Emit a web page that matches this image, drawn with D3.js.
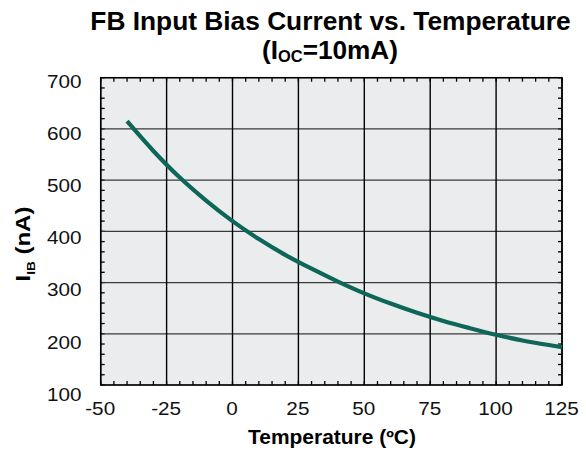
<!DOCTYPE html>
<html><head><meta charset="utf-8">
<script src="https://cdn.jsdelivr.net/npm/d3@7"></script>
<style>body{margin:0;background:#fff}svg{display:block}text{font-family:"Liberation Sans",Arial,Helvetica,sans-serif}</style>
</head><body><svg id="c" width="586" height="453"></svg>
<script>
const temps = [-40,-30,-20,-10,0,10,20,30,40,50,60,70,80,90,100,110,120,125];
const biasNA = [615,557,505,460,420,385,354,327,302,279,259,241,225,211,198,187,178,174];
const xTicks = [-50,-25,0,25,50,75,100,125];
const yTicks = [100,200,300,400,500,600,700];

const svg = d3.select("#c");
const L=100.7, R=562, T=77.7, B=385;
const x = d3.scaleLinear().domain([-50,125]).range([L,R]);
const y = d3.scaleLinear().domain([100,700]).range([B,T]);
const yLab = d3.scaleLinear().domain([100,700]).range([394,81.7]);

function stretch(sel, ax, ay, target){
  const w = sel.node().getBBox().width;
  const k = target / w;
  sel.attr("transform", `translate(${ax},${ay}) scale(${k},1) translate(${-ax},${-ay})`);
}

svg.append("rect").attr("x",L).attr("y",T).attr("width",R-L).attr("height",B-T).attr("fill","#ebecee");

const xMinor = d3.range(-50,126,5);
const yMinor = d3.range(100,701,20);
const g = svg.append("g").attr("stroke","#000").attr("stroke-width",1.3);
xMinor.forEach(v=>{
  g.append("line").attr("x1",x(v)).attr("x2",x(v)).attr("y1",B).attr("y2",B-4);
  g.append("line").attr("x1",x(v)).attr("x2",x(v)).attr("y1",T).attr("y2",T+4);
});
yMinor.forEach(v=>{
  g.append("line").attr("x1",L).attr("x2",L+4).attr("y1",y(v)).attr("y2",y(v));
  g.append("line").attr("x1",R).attr("x2",R-4).attr("y1",y(v)).attr("y2",y(v));
});
yTicks.forEach(v=>{
  svg.append("line").attr("x1",L).attr("x2",R).attr("y1",y(v)).attr("y2",y(v)).attr("stroke","#3a3a3a").attr("stroke-width",1.2);
});
xTicks.forEach(v=>{
  svg.append("line").attr("x1",x(v)).attr("x2",x(v)).attr("y1",T).attr("y2",B).attr("stroke","#000").attr("stroke-width",1.4);
});
svg.append("rect").attr("x",L).attr("y",T).attr("width",R-L).attr("height",B-T).attr("fill","none").attr("stroke","#000").attr("stroke-width",1.5);

const line = d3.line().x((d,i)=>x(temps[i])).y(d=>y(d)).curve(d3.curveCatmullRom.alpha(0.5));
svg.append("path").datum(biasNA).attr("d",line).attr("fill","none").attr("stroke","#0e6659").attr("stroke-width",4.2);

const FS = 18.5, SX = 1.12;
xTicks.forEach(v=>{
  const cx = x(v) - 0.5;
  svg.append("text").attr("x",cx).attr("y",415).attr("text-anchor","middle").attr("font-size",FS).attr("fill","#111")
    .attr("transform",`translate(${cx},0) scale(${SX},1) translate(${-cx},0)`).text(v);
});
yTicks.forEach(v=>{
  svg.append("text").attr("x",81.5).attr("y",yLab(v)+6.6).attr("text-anchor","end").attr("font-size",FS).attr("fill","#111")
    .attr("transform",`translate(81.5,0) scale(${SX},1) translate(-81.5,0)`).text(v);
});

svg.append("text").attr("x",330.5).attr("y",30).attr("text-anchor","middle").attr("font-size",26.3).attr("font-weight","bold").attr("fill","#000").text("FB Input Bias Current vs. Temperature");
const t2 = svg.append("text").attr("x",330).attr("y",59).attr("text-anchor","middle").attr("font-size",25.5).attr("font-weight","bold").attr("fill","#000");
t2.append("tspan").text("(I");
t2.append("tspan").attr("font-size",16).attr("dy",3).text("OC");
t2.append("tspan").attr("dy",-3).text("=10mA)");
stretch(t2, 330, 59, 136);

const xt = svg.append("text").attr("x",332).attr("y",444).attr("text-anchor","middle").attr("font-size",19.5).attr("font-weight","bold").attr("fill","#000").text("Temperature (ºC)");
stretch(xt, 332, 444, 168);

const yg = svg.append("g").attr("transform","translate(29.5,244) rotate(-90)");
const yl = yg.append("text").attr("x",0).attr("y",0).attr("text-anchor","middle").attr("font-size",19.5).attr("font-weight","bold").attr("fill","#000");
yl.append("tspan").text("I");
yl.append("tspan").attr("font-size",11).attr("dy",5).text("IB");
yl.append("tspan").attr("dy",-5).text(" (nA)");
stretch(yl, 0, 0, 75);
</script></body></html>
